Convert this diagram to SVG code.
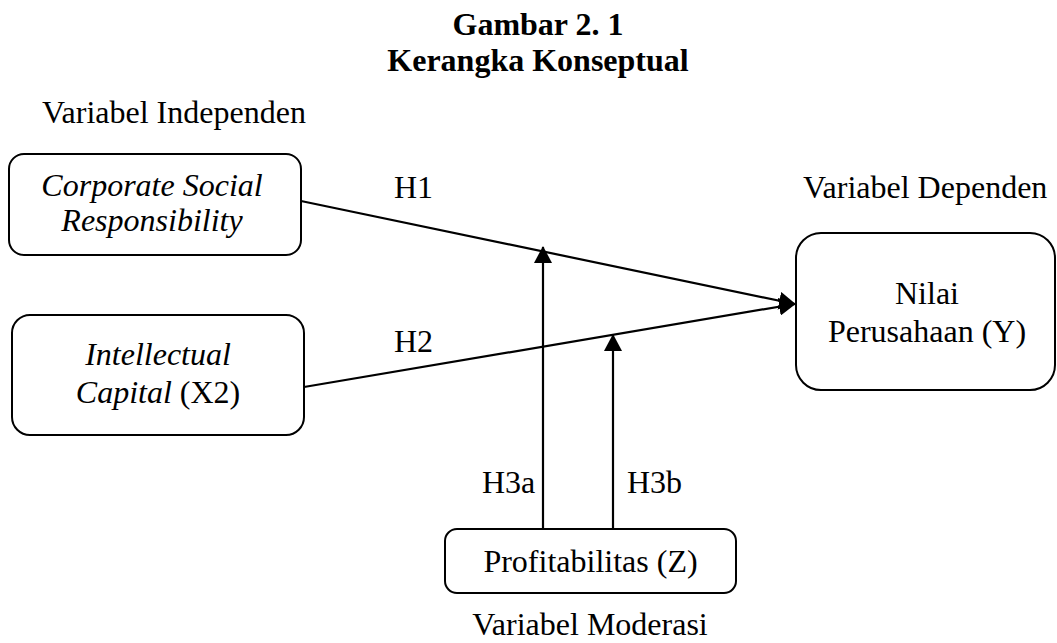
<svg xmlns="http://www.w3.org/2000/svg" width="1057" height="643" viewBox="0 0 1057 643">
<style>
text{font-family:"Liberation Serif","Times New Roman",serif;font-size:32px;fill:#000}
.b{font-weight:bold}
.i{font-style:italic}
.box{fill:#fff;stroke:#000;stroke-width:2}
.ln{stroke:#000;stroke-width:2.2;fill:none;marker-end:url(#ah)}
</style>
<defs>
<marker id="ah" markerUnits="userSpaceOnUse" markerWidth="17" markerHeight="18" refX="16" refY="9" orient="auto" viewBox="0 0 17 18">
<path d="M0,0 L17,9 L0,18 z" fill="#000"/>
</marker>
</defs>
<rect width="1057" height="643" fill="#fff"/>
<g id="title">
<text class="b" x="538" y="35" text-anchor="middle">Gambar 2. 1</text>
<text class="b" x="538" y="71" text-anchor="middle">Kerangka Konseptual</text>
</g>
<g id="labels">
<text x="42" y="123">Variabel Independen</text>
<text x="803" y="198">Variabel Dependen</text>
<text x="590" y="635" text-anchor="middle">Variabel Moderasi</text>
<text x="394" y="198">H1</text>
<text x="394" y="352">H2</text>
<text x="482" y="493">H3a</text>
<text x="627" y="493">H3b</text>
</g>
<g id="connectors">
<line class="ln" x1="301" y1="201" x2="795" y2="304"/>
<line class="ln" x1="304" y1="387" x2="795" y2="304"/>
<line class="ln" x1="543" y1="529" x2="543" y2="247"/>
<line class="ln" x1="613" y1="529" x2="613" y2="335"/>
</g>
<g id="csr">
<rect class="box" x="9" y="154" width="292" height="101" rx="15"/>
<text class="i" x="152" y="196" text-anchor="middle">Corporate Social</text>
<text class="i" x="152" y="231" text-anchor="middle">Responsibility</text>
</g>
<g id="ic">
<rect class="box" x="12" y="315" width="292" height="120" rx="18"/>
<text x="158" y="365" text-anchor="middle" class="i">Intellectual</text>
<text x="158" y="403" text-anchor="middle"><tspan class="i">Capital</tspan> (X2)</text>
</g>
<g id="nilai">
<rect class="box" x="796" y="233" width="259" height="157" rx="25"/>
<text x="927" y="304" text-anchor="middle">Nilai</text>
<text x="927" y="342" text-anchor="middle">Perusahaan (Y)</text>
</g>
<g id="profit">
<rect class="box" x="445" y="529" width="291" height="64" rx="12"/>
<text x="590.5" y="572" text-anchor="middle">Profitabilitas (Z)</text>
</g>
</svg>
